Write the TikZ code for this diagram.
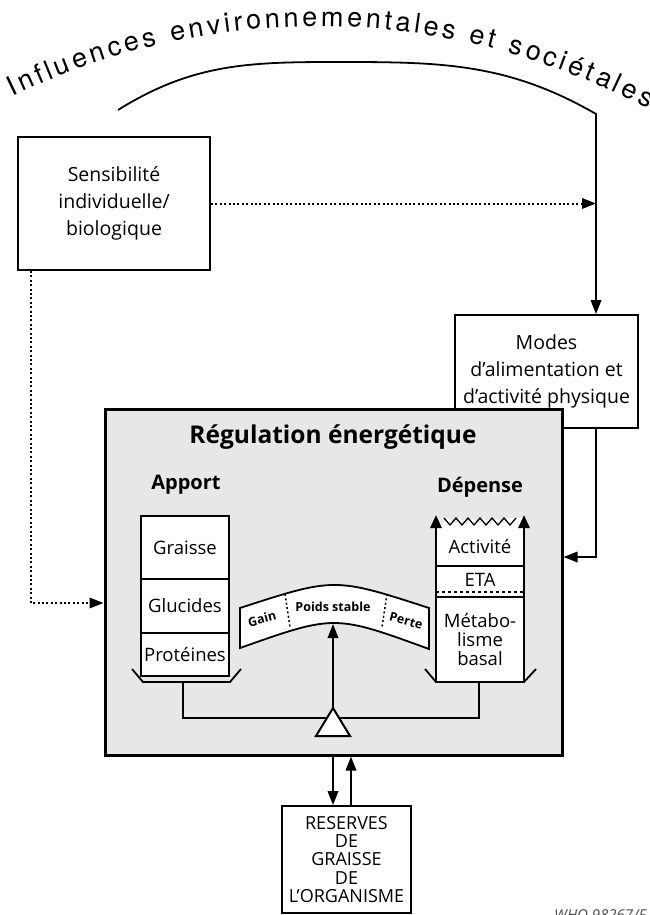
\documentclass[tikz,border=0pt]{standalone}
\usepackage{fontspec}
\setmainfont{Open Sans}
\newfontfamily\heros{TeX Gyre Heros}
\usetikzlibrary{arrows.meta, calc, decorations.text}
\definecolor{panelgray}{RGB}{230,231,232}
\newcommand{\arcfont}{\heros\fontsize{27pt}{30pt}\selectfont}

\begin{document}
\begin{tikzpicture}[
    x = 1pt, y = 1pt,
    line width = 1.8pt,
    > = {Triangle[length = 14pt, width = 10.5pt]},
    box/.style = {draw,
      fill = white,
      align = center,
      inner sep = 0pt,
      font = \fontsize{19.5pt}{27pt}\selectfont},
    cell/.style = {align = center,
      font = \fontsize{18.5pt}{19pt}\selectfont},
    heading/.style = {font = \bfseries\fontsize{20pt}{24pt}\selectfont},
    scalelabel/.style = {font = \bfseries\fontsize{12.5pt}{14pt}\selectfont},
    dotline/.style = {line width = 2pt, dash pattern = on 2pt off 2.4pt}
    ]
    \useasboundingbox (0, 0) rectangle (650, -915);

    % influences
    \path [decorate, decoration = {text along path,
        text = {|\arcfont|Influences environnementales et sociétales},
        text align = fit to path}]
    (12.2, -96.7) arc [start angle = 115.9, end angle = 61.9, radius = 700];

    \coordinate (arcL) at (118, -110);
    \coordinate (arctop) at (335, -62);
    \coordinate (arcR) at (596, -114);

    \node at (114, -203.5) [box, minimum width = 192pt, minimum height = 133pt,
      name = sens] {Sensibilité\\individuelle/\\biologique};
    \node at (546.5, -371.5) [box, minimum width = 183pt, minimum height = 113pt,
      name = modes] {Modes\\d’alimentation et\\d’activité physique};

    \draw [->] (arcL) to [out = 32, in = 180] (arctop)
    to [out = 0, in = 150] (arcR) -- (arcR |- modes.north);
    \draw [dotline, ->] (sens.east) -- (sens.east -| arcR);

    % energy regulation
    \node at (333.5, -582) [draw, line width = 3pt, fill = panelgray,
      minimum width = 457pt, minimum height = 346pt, name = reg] {};
    \node at (333, -437) [font = \bfseries\fontsize{24.5pt}{28pt}\selectfont,
      name = title] {Régulation énergétique};
    \node at (186, -485) [heading, name = apport] {Apport};
    \node at (480, -487) [heading, name = depense] {Dépense};

    \draw [dotline, ->] ([xshift = -83pt] sens.south) |- (reg.west |- 0, -603);
    \draw [->] (modes.south -| arcR) |- (reg.east |- 0, -557);

    % intake
    \node at (185, -547.5) [cell, draw, fill = white, minimum width = 88pt,
      minimum height = 63pt, name = fat] {Graisse};
    \node at (185, -606) [cell, draw, fill = white, minimum width = 88pt,
      minimum height = 54pt, name = carb] {Glucides};
    \node at (185, -654.5) [cell, draw, fill = white, minimum width = 88pt,
      minimum height = 43pt, name = prot] {Protéines};
    \draw (132, -669) -- (143, -682) -- (230, -682) -- (241, -669);

    % expenditure
    \fill [white] (436, -682) -- (436, -518)
    \foreach \k in {1, ..., 6} { -- ++(6, -7) -- ++(6, 7) } -- (524, -518)
    -- (524, -682) -- cycle;
    \draw [line width = 1.3pt] (444, -518)
    \foreach \k in {1, ..., 6} { -- ++(6, -7) -- ++(6, 7) };
    \draw (436, -566) -- (524, -566);
    \draw [dashed, line width = 1.3pt] (436, -592) -- (524, -592);
    \draw (436, -597) -- (524, -597);
    \draw (425, -669) -- (436, -682) -- (524, -682) -- (536, -669);
    \draw [->, line width = 2.8pt, > = {Triangle[length = 13pt, width = 11pt]}]
    (436, -682) -- (436, -515);
    \draw [->, line width = 2.8pt, > = {Triangle[length = 13pt, width = 11pt]}]
    (524, -682) -- (524, -515);
    \node at (480, -546) [cell, name = act] {Activité};
    \node at (480, -580) [cell, name = eta] {ETA};
    \node at (480, -639) [cell, name = bmr] {Métabo-\\lisme\\basal};

    % balance
    \coordinate (lpan) at (183, -682);
    \coordinate (rpan) at (479, -682);
    \coordinate (pivot) at (333, -708);
    \coordinate (bannerbottom) at (333, -624);
    \draw (lpan) -- (lpan |- 0, -718) -- (rpan |- 0, -718) -- (rpan);
    \draw [fill = white] (240, -608) .. controls (334.5, -577.3) .. (429, -608)
    -- (429, -649) .. controls (334.5, -614.5) .. (240, -648) -- cycle;
    \draw [dotline, line width = 1.5pt] (285, -594) -- (290, -627);
    \draw [dotline, line width = 1.5pt] (387, -594) -- (382, -627);
    \node at (262, -619) [scalelabel, rotate = 15, name = gain] {Gain};
    \node at (333, -607) [scalelabel, name = stable] {Poids stable};
    \node at (406, -621) [scalelabel, rotate = -15, name = perte] {Perte};
    \draw [->] (pivot) -- (bannerbottom);
    \draw [fill = white, line width = 2pt] (pivot) -- (350, -736) -- (316, -736) -- cycle;

    % fat stores
    \node at (346.5, -859.5) [box, minimum width = 129pt, minimum height = 107pt,
      font = \fontsize{18pt}{18.4pt}\selectfont,
      name = res] {RESERVES\\DE\\GRAISSE\\DE\\L’ORGANISME};
    \coordinate (upx) at (351, 0);
    \draw [->] (reg.south -| pivot) -- (res.north -| pivot);
    \draw [->] (res.north -| upx) -- (reg.south -| upx);

    \node at (550, -920) [anchor = base west, text = black!70,
      font = \itshape\fontsize{15pt}{16pt}\selectfont, name = who] {WHO 98267/F};
  \end{tikzpicture}
\end{document}
